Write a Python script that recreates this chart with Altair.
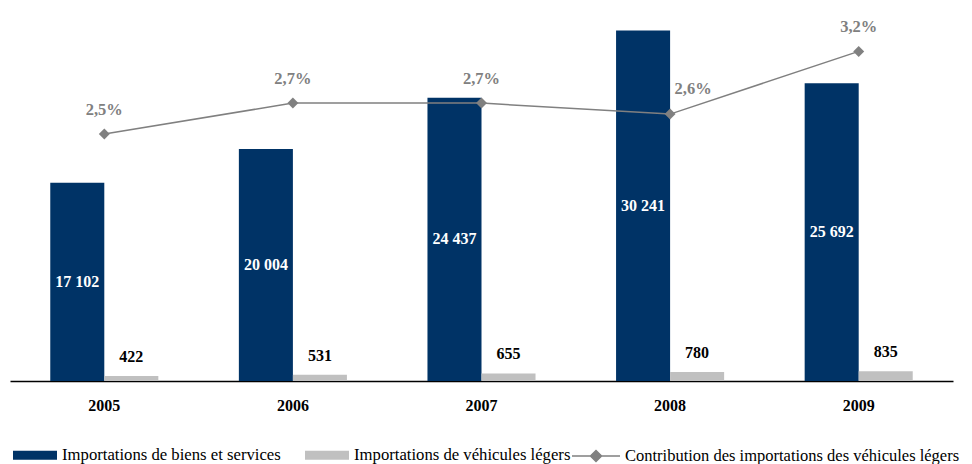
import altair as alt
import pandas as pd

years = ["2005", "2006", "2007", "2008", "2009"]
biens = [17102, 20004, 24437, 30241, 25692]
vehicules = [422, 531, 655, 780, 835]
contribution = [2.46, 2.74, 2.74, 2.64, 3.21]

S1 = "Importations de biens et services"
S2 = "Importations de véhicules légers"
S3 = "Contribution des importations des véhicules légers"

NAVY = "#003366"
LGREY = "#c0c0c0"
DGREY = "#808080"
FONT = "Liberation Serif"

bars_df = pd.DataFrame(
    {"year": years * 2, "series": [S1] * 5 + [S2] * 5, "value": biens + vehicules}
)
line_df = pd.DataFrame({"year": years, "pct": contribution, "contrib": [S3] * 5})

xscale = alt.Scale(paddingInner=0.427, paddingOuter=0.2135)
xaxis = alt.Axis(
    title=None, labelAngle=0, ticks=False, domainColor="black", domainWidth=1.5,
    labelFont=FONT, labelFontSize=16, labelFontWeight="bold", labelColor="black",
    labelPadding=16, grid=False,
)
xoff = alt.XOffset("series:N", scale=alt.Scale(domain=[S1, S2], paddingInner=0, paddingOuter=0))
yscale = alt.Scale(domain=[0, 32000], zero=True, nice=False)

base_b = alt.Chart(bars_df)
bars = base_b.mark_bar().encode(
    x=alt.X("year:N", scale=xscale, axis=xaxis),
    xOffset=xoff,
    y=alt.Y("value:Q", scale=yscale, axis=None),
    color=alt.Color(
        "series:N",
        scale=alt.Scale(domain=[S1, S2], range=[NAVY, LGREY]),
        legend=alt.Legend(
            title=None, orient="none", legendX=3, legendY=423, direction="horizontal",
            symbolType="M-1,-0.2045H1V0.2045H-1Z", symbolSize=1936, symbolStrokeWidth=0,
            labelFont=FONT, labelFontSize=16.7, labelColor="black", labelOffset=5,
            columnPadding=24, padding=0, labelLimit=400,
        ),
    ),
)
lbl_in = base_b.transform_filter(alt.datum.series == S1).transform_calculate(
    mid="datum.value / 2",
    txt="replace(format(datum.value, ','), ',', ' ')",
).mark_text(font=FONT, fontSize=16, fontWeight="bold", color="white", baseline="middle").encode(
    x=alt.X("year:N", scale=xscale, axis=xaxis),
    xOffset=xoff,
    y=alt.Y("mid:Q", scale=yscale, axis=None),
    text="txt:N",
)
lbl_top = base_b.transform_filter(alt.datum.series == S2).mark_text(
    font=FONT, fontSize=16, fontWeight="bold", color="black", baseline="middle", dy=-19
).encode(
    x=alt.X("year:N", scale=xscale, axis=xaxis),
    xOffset=xoff,
    y=alt.Y("value:Q", scale=yscale, axis=None),
    text=alt.Text("value:Q", format="d"),
)
bar_layer = alt.layer(bars, lbl_in, lbl_top)

pscale = alt.Scale(domain=[0.2136, 3.5864], zero=False, nice=False)
base_l = alt.Chart(line_df)
line = base_l.mark_line(color=DGREY, strokeWidth=1.5).encode(
    x=alt.X("year:N", scale=xscale, axis=xaxis),
    y=alt.Y("pct:Q", scale=pscale, axis=None),
)
pts = base_l.mark_point(shape="diamond", filled=True, size=120, opacity=1).encode(
    x=alt.X("year:N", scale=xscale, axis=xaxis),
    y=alt.Y("pct:Q", scale=pscale, axis=None),
    color=alt.Color(
        "contrib:N",
        scale=alt.Scale(domain=[S3], range=[DGREY]),
        legend=alt.Legend(
            title=None, orient="none", legendX=561, legendY=421,
            symbolType="M-1,0H1M-0.23,0L0,-0.23L0.23,0L0,0.23Z", symbolSize=2304,
            symbolStrokeColor=DGREY, symbolFillColor=DGREY, symbolStrokeWidth=1.5,
            labelFont=FONT, labelFontSize=16.5, labelColor="black", labelOffset=4,
            padding=0, labelLimit=500,
        ),
    ),
)
pct_expr = "replace(format(datum.pct, '.1f'), '.', ',') + '%'"
pct_txt = base_l.transform_filter(alt.datum.year != "2008").transform_calculate(
    lab=pct_expr
).mark_text(font=FONT, fontSize=16.5, fontWeight="bold", color=DGREY, baseline="middle", dy=-24).encode(
    x=alt.X("year:N", scale=xscale, axis=xaxis),
    y=alt.Y("pct:Q", scale=pscale, axis=None),
    text="lab:N",
)
pct_txt_08 = base_l.transform_filter(alt.datum.year == "2008").transform_calculate(
    lab=pct_expr
).mark_text(font=FONT, fontSize=16.5, fontWeight="bold", color=DGREY, baseline="middle", dy=-25, dx=23).encode(
    x=alt.X("year:N", scale=xscale, axis=xaxis),
    y=alt.Y("pct:Q", scale=pscale, axis=None),
    text="lab:N",
)
line_layer = alt.layer(line, pts, pct_txt, pct_txt_08)

chart = (
    alt.layer(bar_layer, line_layer)
    .resolve_scale(y="independent", color="independent")
    .properties(
        width=943, height=371,
        padding={"left": 2, "top": 2, "right": 11, "bottom": 86},
        autosize=alt.AutoSizeParams(type="none"),
    )
    .configure(background="white")
    .configure_view(strokeWidth=0, stroke="transparent")
)

chart.save("out.html", embed_options={"renderer": "svg", "actions": False})
